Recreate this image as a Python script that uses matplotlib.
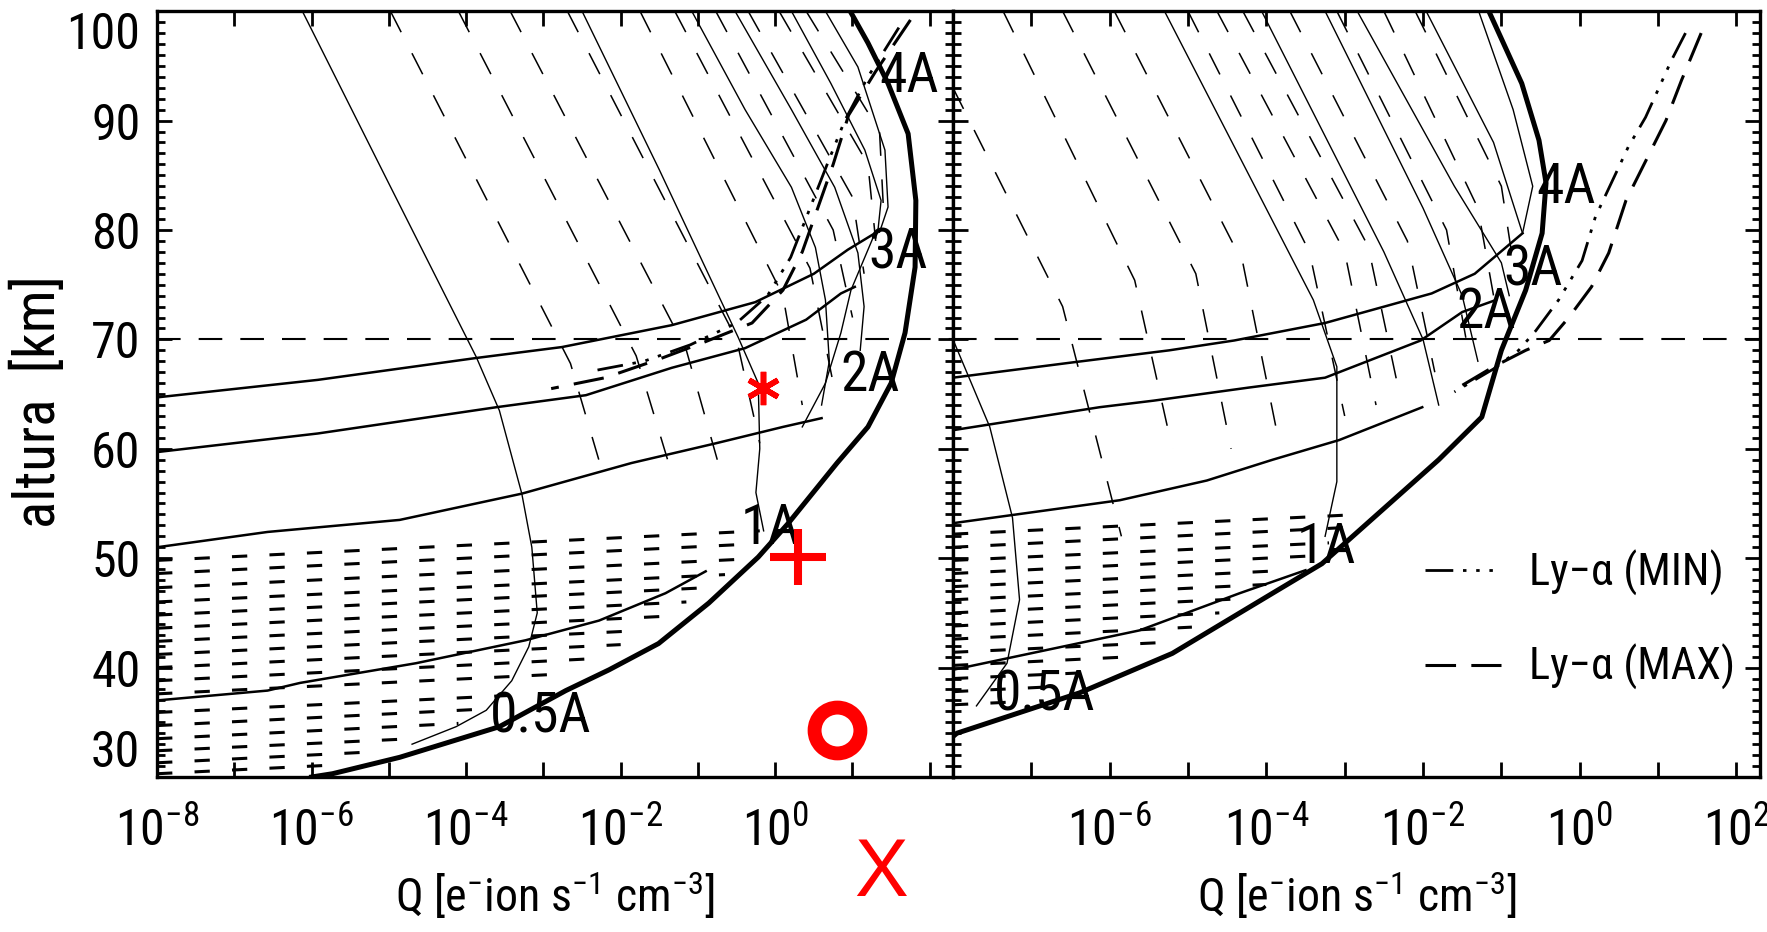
import numpy as np
import matplotlib
matplotlib.use("Agg")
import matplotlib.pyplot as plt
from matplotlib import font_manager
from matplotlib.ticker import FixedLocator, FixedFormatter, MultipleLocator, NullLocator

# the scan uses a narrow IDL font -> take a narrow/condensed face if there is one
entries = font_manager.fontManager.ttflist
fams = set(f.name for f in entries)
face, stretch, narrow = 'DejaVu Sans', 'normal', False
for p in ['Liberation Sans Narrow', 'Roboto Condensed', 'DejaVu Sans Condensed',
          'Open Sans Condensed', 'Noto Sans Condensed', 'Arial Narrow']:
    if p in fams:
        face, narrow = p, True
        break
if not narrow:
    for f in entries:
        if f.name in ('Noto Sans', 'Open Sans', 'Roboto', 'DejaVu Sans', 'Liberation Sans', 'Lato') \
                and f.stretch in ('condensed', 'semi-condensed', 'extra-condensed') and f.style == 'normal':
            face, stretch, narrow = f.name, f.stretch, True
            break
plt.rcParams['font.family'] = [face, 'DejaVu Sans']
plt.rcParams['font.stretch'] = stretch
plt.rcParams['lines.scale_dashes'] = False
plt.rcParams['lines.dash_capstyle'] = 'butt'
fs_tick = 36 if narrow else 30
fs_lab = 40 if narrow else 33
fs_leg = 32 if narrow else 26
fs_ax = 33 if narrow else 28

# ---------------- data: log10(Q) and altitude (km) ----------------
# left panel
env_l_q = [-6.0, -5.73, -4.86, -3.57, -2.71, -2.15, -1.51, -0.86, -0.22, 0.17, 0.8, 1.2, 1.5, 1.68, 1.81, 1.82, 1.72, 1.46, 1.2, 0.97]
env_l_h = [30.0, 30.3, 31.8, 34.6, 37.9, 39.8, 42.2, 45.9, 50.1, 53.2, 58.7, 62.0, 66.0, 70.6, 76.6, 82.7, 88.8, 93.4, 97.1, 100.0]

hl1_q = [-8.0, -5.92, -3.87, -2.76, -1.34, -0.26, 0.5, 0.94, 1.29]
hl1_h = [64.7, 66.3, 68.3, 69.3, 71.3, 73.4, 76.0, 78.2, 79.7]
hl2_q = [-8.0, -5.92, -3.61, -2.45, -1.34, -0.39, 0.4, 0.85, 1.03]
hl2_h = [59.7, 61.4, 63.8, 64.9, 67.4, 69.2, 71.8, 74.2, 74.8]
hl3_q = [-8.0, -6.57, -4.86, -3.28, -1.86, -0.77, 0.1, 0.6]
hl3_h = [51.0, 52.4, 53.5, 55.9, 58.7, 60.5, 62.0, 62.8]
hl4_q = [-8.0, -6.57, -6.15, -4.65, -3.23, -2.28, -1.42, -0.9]
hl4_h = [37.0, 37.9, 38.6, 40.4, 42.5, 44.3, 46.8, 48.8]

b1_q = [-6.12, -4.99, -3.87, -3.57, -3.28, -3.15, -3.08, -3.19, -3.41, -3.74, -4.13, -4.7]
b1_h = [100.0, 84.1, 68.4, 63.5, 55.9, 51.0, 45.0, 41.9, 38.8, 36.1, 34.6, 33.0]
t1_q = [-2.5, -1.5, -0.48, -0.22, -0.2, -0.25, -0.15]
t1_h = [100.0, 85.5, 70.2, 66.0, 60.0, 56.0, 52.5]
t2_q = [-1.08, -0.39, 0.21, 0.52, 0.65, 0.7, 0.6]
t2_h = [100.0, 91.0, 83.9, 78.4, 73.6, 68.0, 64.0]
t3_q = [-0.52, 0.21, 0.77, 1.07, 1.15, 1.1]
t3_h = [100.0, 91.0, 83.9, 77.9, 73.0, 69.0]
t4_q = [0.21, 0.72, 1.16, 1.37, 1.33]
t4_h = [100.0, 93.4, 87.3, 82.7, 80.0]
t5_q = [0.65, 1.07, 1.42, 1.46, 1.35]
t5_h = [100.0, 94.9, 87.3, 82.1, 79.8]
t6_q = [1.29, 0.98, 0.85, 0.65, 0.35]
t6_h = [79.7, 74.5, 70.6, 66.0, 62.0]

lya_min_l_q = [1.6, 1.2, 0.9, 0.7, 0.45, 0.2, -0.1, -0.5, -1.1, -1.7, -2.3]
lya_min_l_h = [98.5, 94.0, 90.0, 86.5, 82.0, 77.5, 74.0, 71.5, 69.5, 68.0, 67.2]
lya_max_l_q = [1.75, 1.3, 0.95, 0.75, 0.55, 0.35, 0.1, -0.3, -0.9, -1.5, -2.2, -2.9]
lya_max_l_h = [99.2, 94.5, 90.5, 86.0, 82.0, 78.0, 74.5, 71.5, 69.8, 68.2, 66.5, 65.5]

# steep dashed profiles (top, middle, end)
sd_l_top = [-4.98, -4.10, -3.43, -2.69, -1.75, -1.30, -0.77, -0.35, 0.05, 0.40]
sd_l_mid_q = [-2.65, -1.80, -1.15, -0.50, 0.10, 0.45, 0.75, 1.00, 1.20, 1.35]
sd_l_mid_h = [67.8, 68.5, 69.0, 70.0, 74.0, 76.5, 80.0, 83.0, 86.0, 89.0]
sd_l_end_q = [-2.20, -1.35, -0.75, -0.20, 0.35, 0.75, 1.00, 1.15, 1.30, 1.40]
sd_l_end_h = [57.0, 58.0, 59.0, 60.5, 64.0, 66.0, 72.0, 76.0, 79.0, 82.0]

# near-horizontal dashed profiles (start at left edge, end at the envelope)
row_l_h0 = [49.8, 48.6, 47.3, 46.0, 44.8, 43.6, 42.4, 41.2, 40.0, 38.8, 37.6, 35.9, 34.7, 33.5, 32.4, 31.3, 30.3]
row_l_end_q = [-0.2, -0.3, -0.45, -0.65, -0.9, -1.15, -1.4, -1.7, -2.0, -2.4, -2.8, -3.3, -3.8, -4.1, -4.7, -5.2, -5.7]
row_l_end_h = [52.5, 51.3, 49.9, 48.5, 47.3, 46.0, 44.7, 43.4, 42.1, 40.8, 39.4, 37.5, 36.2, 34.9, 33.5, 32.3, 31.1]

# right panel
env_r_q = [-8.0, -7.95, -6.38, -5.2, -3.92, -3.29, -1.8, -1.25, -1.0, -0.69, -0.48, -0.43, -0.52, -0.74, -1.16]
env_r_h = [33.7, 34.0, 37.7, 41.3, 46.8, 49.5, 59.0, 62.9, 69.0, 74.5, 79.7, 84.3, 88.2, 93.4, 100.0]

rl1_q = [-8.0, -6.47, -5.24, -4.41, -3.25, -1.89, -1.34, -0.73]
rl1_h = [66.5, 67.9, 69.0, 69.9, 71.5, 74.2, 76.0, 79.7]
rl2_q = [-8.0, -6.13, -5.44, -4.22, -3.25, -2.03, -1.5, -1.07]
rl2_h = [61.7, 63.8, 64.4, 65.6, 66.5, 69.9, 72.5, 73.6]
rl3_q = [-8.0, -5.87, -4.76, -3.92, -3.07, -2.01]
rl3_h = [53.2, 55.3, 57.1, 59.0, 60.8, 63.8]
rl4_q = [-8.0, -5.62, -4.34, -3.5]
rl4_h = [39.8, 43.4, 46.8, 48.9]

rb1_q = [-8.0, -7.53, -7.24, -7.15, -7.31, -7.7]
rb1_h = [70.0, 62.0, 53.7, 46.2, 40.4, 36.5]
rt1_q = [-5.3, -3.4, -3.1, -3.1, -3.25]
rt1_h = [100.0, 73.6, 67.5, 57.0, 52.0]
rt2_q = [-4.06, -2.5, -2.0, -1.8]
rt2_h = [100.0, 78.0, 70.0, 64.0]
rt3_q = [-3.25, -2.0, -1.5, -1.3]
rt3_h = [100.0, 82.0, 74.0, 68.0]
rt4_q = [-2.84, -1.6, -1.0, -0.9]
rt4_h = [100.0, 84.0, 77.0, 74.0]
rt5_q = [-1.96, -1.1, -0.73]
rt5_h = [100.0, 88.0, 79.7]
rt6_q = [-1.29, -0.85, -0.6, -0.73]
rt6_h = [100.0, 91.0, 84.0, 79.7]

lya_min_r_q = [1.35, 1.17, 0.84, 0.62, 0.20, 0.03, -0.27, -0.56, -0.78, -1.1, -1.6]
lya_min_r_h = [98.0, 95.5, 90.3, 87.6, 81.2, 77.2, 73.6, 70.8, 69.0, 67.3, 65.2]
lya_max_r_q = [1.55, 1.30, 1.10, 0.59, 0.37, 0.15, -0.14, -0.39, -0.69, -1.1, -1.5]
lya_max_r_h = [98.0, 93.7, 90.0, 82.7, 77.9, 74.8, 72.0, 69.9, 69.0, 67.5, 65.8]

sd_r_top_q = [-8.0, -7.36, -6.60, -5.94, -5.00, -4.63, -4.30, -3.70, -3.10, -2.50, -2.10]
sd_r_top_h = [93.0, 100.0, 100.0, 100.0, 100.0, 100.0, 100.0, 100.0, 100.0, 100.0, 100.0]
sd_r_mid_q = [-6.60, -5.68, -4.90, -4.30, -3.45, -3.00, -2.70, -2.20, -1.70, -1.30, -1.00]
sd_r_mid_h = [73.0, 75.4, 76.0, 77.0, 78.0, 78.0, 78.5, 79.0, 80.0, 82.0, 84.0]
sd_r_end_q = [-5.85, -5.20, -4.45, -3.85, -3.00, -2.60, -2.30, -1.85, -1.45, -1.10, -0.85]
sd_r_end_h = [52.0, 60.0, 60.0, 61.0, 63.0, 64.0, 65.0, 67.0, 70.0, 74.0, 77.0]

row_r_h0 = [52.2, 51.0, 49.8, 48.6, 47.4, 46.2, 45.0, 43.8, 42.6, 41.4, 40.2, 39.0, 37.8, 36.6]
row_r_end_q = [-2.8, -3.0, -3.2, -3.45, -3.7, -4.0, -4.3, -4.6, -4.95, -5.3, -5.7, -6.1, -6.6, -7.1]
row_r_end_h = [54.0, 52.8, 51.4, 50.2, 48.9, 47.6, 46.3, 45.0, 43.7, 42.3, 41.0, 39.6, 38.3, 36.9]

# wavelength labels: text, log10 Q, altitude
lab_txt = ['0.5A', '1A', '2A', '3A', '4A']
lab_l_q = [-3.03, -0.06, 1.23, 1.59, 1.73]
lab_l_h = [35.5, 52.7, 66.7, 77.9, 94.0]
lab_r_q = [-6.83, -3.24, -1.2, -0.6, -0.17]
lab_r_h = [37.5, 51.0, 72.5, 76.3, 83.9]

# red marks drawn on the left panel (log10 Q, km)
star_q, star_h = -0.155, 65.6
plus_q, plus_h = 0.297, 50.1
ring_q, ring_h = 0.801, 34.3
cross_q, cross_h = 1.37, 21.0

ticks_exp = list(range(-8, 3))
alt_ticks = [30, 40, 50, 60, 70, 80, 90, 100]
xlab = r'Q [e$\mathregular{^{-}}$ion s$\mathregular{^{-1}}$ cm$\mathregular{^{-3}}$]'

# ---------------- styles ----------------
D_STEEP = (0, (17, 17))
D_ROW = (0, (11, 16))
D_70 = (0, (17, 13))
D_MAX = (0, (22, 11))
D_MIN = (0, (20, 7, 2.5, 7, 2.5, 7, 2.5, 7))


def q(v):
    return 10.0 ** np.asarray(v, dtype=float)


def setup(ax, shown):
    ax.set_xscale('log')
    ax.set_xlim(1e-8, 10 ** 2.3)
    ax.set_ylim(30, 100)
    ax.xaxis.set_major_locator(FixedLocator(q(ticks_exp)))
    ax.xaxis.set_minor_locator(NullLocator())
    labs = [r'$\mathregular{10^{%d}}$' % e if e in shown else '' for e in ticks_exp]
    ax.xaxis.set_major_formatter(FixedFormatter(labs))
    ax.yaxis.set_major_locator(FixedLocator(alt_ticks))
    ax.yaxis.set_minor_locator(MultipleLocator(1))
    ax.tick_params(which='both', direction='in', top=True, right=True, width=2.0)
    ax.tick_params(which='major', length=11, labelsize=fs_tick)
    ax.tick_params(axis='x', pad=22)
    ax.tick_params(axis='y', pad=12)
    ax.tick_params(which='minor', length=5.5)
    for s in ax.spines.values():
        s.set_linewidth(2.4)


fig = plt.figure(figsize=(17.67, 9.32), dpi=100)
ax1 = fig.add_axes([0.0889, 0.1663, 0.4504, 0.8217])
ax2 = fig.add_axes([0.5393, 0.1663, 0.4567, 0.8217])
setup(ax1, [-8, -6, -4, -2, 0])
setup(ax2, [-6, -4, -2, 0, 2])
ax2.tick_params(labelleft=False)

# altitude labels: the end ones are nudged inside the frame as in the scan
ax1.yaxis.set_major_formatter(FixedFormatter([''] + [str(v) for v in alt_ticks[1:-1]] + ['']))
ytr = ax1.get_yaxis_transform()
ax1.text(-0.021, alt_ticks[0], str(alt_ticks[0]), transform=ytr, ha='right', va='bottom', fontsize=fs_tick)
ax1.text(-0.021, alt_ticks[-1], str(alt_ticks[-1]), transform=ytr, ha='right', va='top', fontsize=fs_tick)

# ---- left panel ----
for i in range(len(sd_l_top)):
    ax1.plot(q([sd_l_top[i], sd_l_mid_q[i], sd_l_end_q[i]]), [100, sd_l_mid_h[i], sd_l_end_h[i]],
             color='k', lw=1.1, ls=D_STEEP)
for i in range(len(row_l_h0)):
    ax1.plot(q([-8, row_l_end_q[i]]), [row_l_h0[i], row_l_end_h[i]], color='k', lw=2.2, ls=D_ROW)
for cq, ch in [(b1_q, b1_h), (t1_q, t1_h), (t2_q, t2_h), (t3_q, t3_h), (t4_q, t4_h), (t5_q, t5_h), (t6_q, t6_h)]:
    ax1.plot(q(cq), ch, color='k', lw=1.0)
for cq, ch in [(hl1_q, hl1_h), (hl2_q, hl2_h), (hl3_q, hl3_h), (hl4_q, hl4_h)]:
    ax1.plot(q(cq), ch, color='k', lw=1.8)
ax1.plot(q(lya_min_l_q), lya_min_l_h, color='k', lw=2.0, ls=D_MIN)
ax1.plot(q(lya_max_l_q), lya_max_l_h, color='k', lw=2.2, ls=D_MAX)
ax1.plot(q(env_l_q), env_l_h, color='k', lw=3.6)
ax1.axhline(70, color='k', lw=1.5, ls=D_70)
for t, xq, yh in zip(lab_txt, lab_l_q, lab_l_h):
    ax1.text(10 ** xq, yh, t, fontsize=fs_lab, ha='center', va='center')

# ---- right panel ----
for i in range(len(sd_r_top_q)):
    ax2.plot(q([sd_r_top_q[i], sd_r_mid_q[i], sd_r_end_q[i]]), [sd_r_top_h[i], sd_r_mid_h[i], sd_r_end_h[i]],
             color='k', lw=1.1, ls=D_STEEP)
for i in range(len(row_r_h0)):
    ax2.plot(q([-8, row_r_end_q[i]]), [row_r_h0[i], row_r_end_h[i]], color='k', lw=2.2, ls=D_ROW)
for cq, ch in [(rb1_q, rb1_h), (rt1_q, rt1_h), (rt2_q, rt2_h), (rt3_q, rt3_h), (rt4_q, rt4_h), (rt5_q, rt5_h), (rt6_q, rt6_h)]:
    ax2.plot(q(cq), ch, color='k', lw=1.0)
for cq, ch in [(rl1_q, rl1_h), (rl2_q, rl2_h), (rl3_q, rl3_h), (rl4_q, rl4_h)]:
    ax2.plot(q(cq), ch, color='k', lw=1.8)
lmin, = ax2.plot(q(lya_min_r_q), lya_min_r_h, color='k', lw=2.0, ls=D_MIN, label='Ly\u2212\u03b1 (MIN)')
lmax, = ax2.plot(q(lya_max_r_q), lya_max_r_h, color='k', lw=2.2, ls=D_MAX, label='Ly\u2212\u03b1 (MAX)')
ax2.plot(q(env_r_q), env_r_h, color='k', lw=3.6)
ax2.axhline(70, color='k', lw=1.5, ls=D_70)
for t, xq, yh in zip(lab_txt, lab_r_q, lab_r_h):
    ax2.text(10 ** xq, yh, t, fontsize=fs_lab, ha='center', va='center')

ax2.legend(handles=[lmin, lmax], loc='center left', bbox_to_anchor=(0.585, 0.205), frameon=False,
           fontsize=fs_leg, handlelength=1.7, handletextpad=0.65, labelspacing=1.1, borderpad=0, borderaxespad=0)

# ---- red marks ----
ax1.plot(10 ** star_q, star_h, marker=(6, 2, 0), ms=24, mew=4, color='#ff0000', clip_on=False, zorder=5)
ax1.plot(10 ** plus_q, plus_h, marker='+', ms=41, mew=5.8, color='#ff0000', clip_on=False, zorder=5)
ax1.plot(10 ** ring_q, ring_h, marker='o', ms=33, mew=10, mfc='none', mec='#ff0000', clip_on=False, zorder=5)
ax1.text(10 ** cross_q, cross_h, 'X', color='#ff0000', fontsize=58, ha='center', va='center',
         family=['Liberation Sans', 'DejaVu Sans'], stretch='normal', clip_on=False)

# ---- axis titles ----
ax1.set_ylabel('altura  [km]', fontsize=41, va='center')
ax1.yaxis.set_label_coords(-0.148, 0.49)
for ax in (ax1, ax2):
    ax.set_xlabel(xlab, fontsize=fs_ax)
    ax.xaxis.set_label_coords(0.5, -0.12)

fig.savefig('out.png', dpi=100, facecolor='white')
